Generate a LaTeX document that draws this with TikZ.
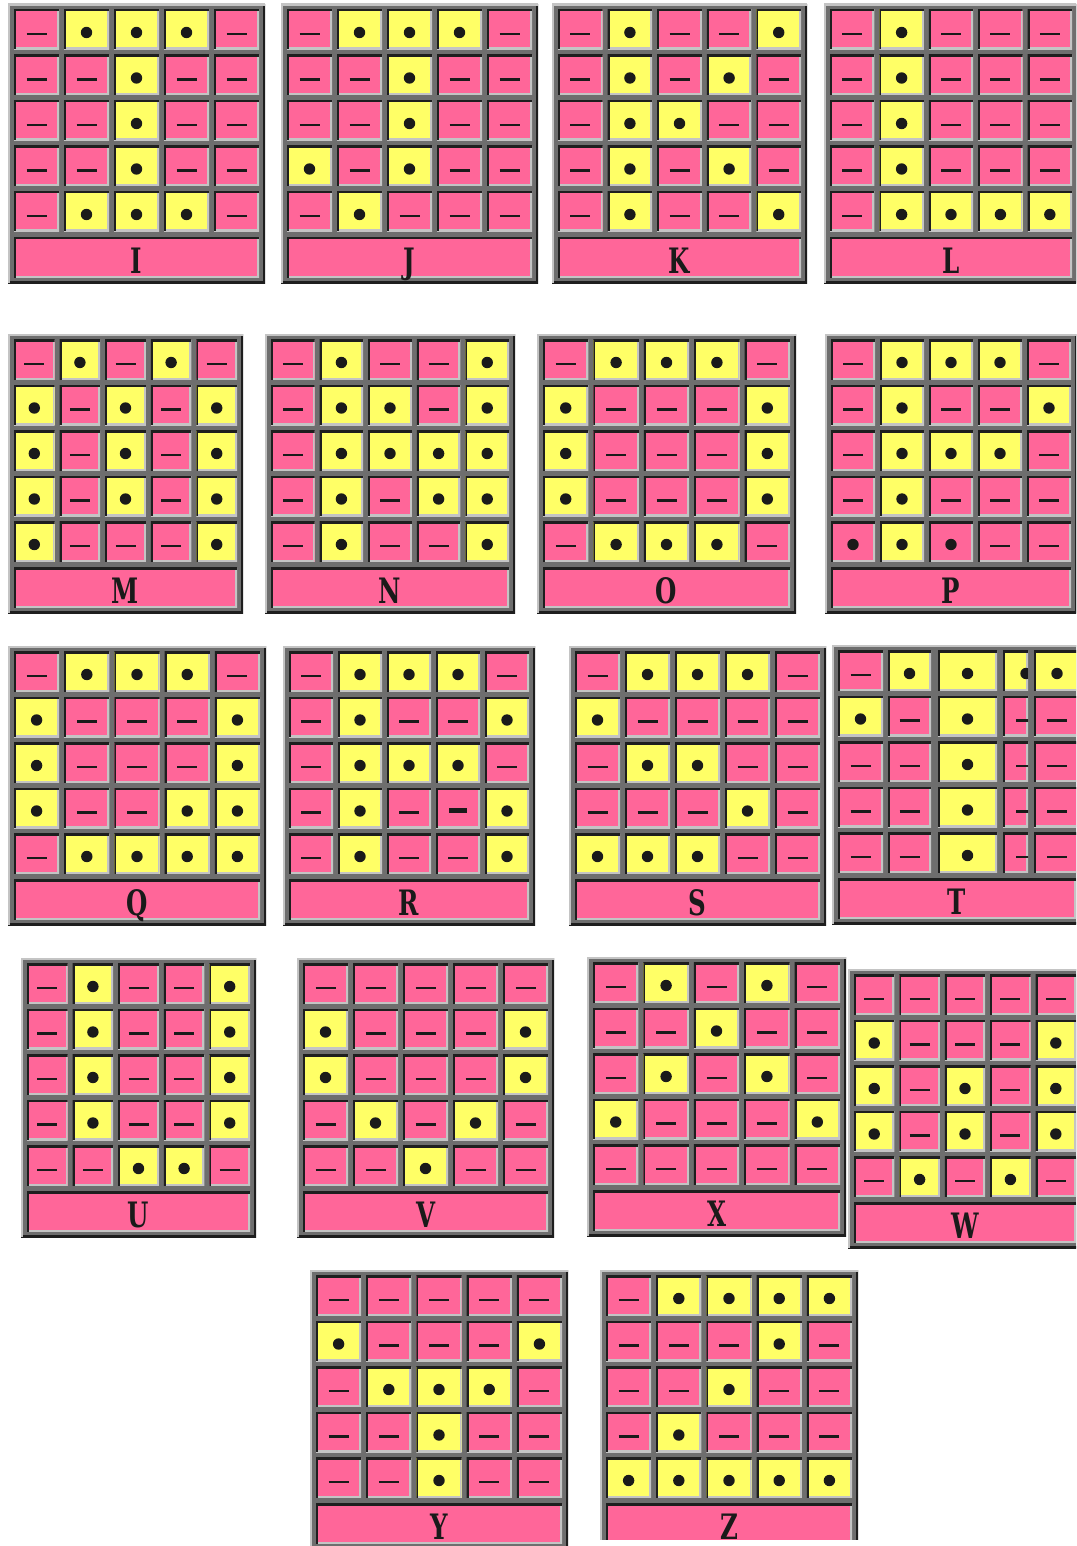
\documentclass[tikz,border=0pt]{standalone}
\usepackage{fontspec}
\newfontfamily\labelfont{DejaVu Serif}
\usepackage{graphicx}
\usepackage{xcolor}
\usepackage{tikz}
\usetikzlibrary{calc}

\definecolor{cellpink}{HTML}{FF6699}
\definecolor{cellyellow}{HTML}{FFFF66}
\definecolor{framegray}{HTML}{6E6E6E}
\definecolor{edgelight}{HTML}{C4C4C4}
\definecolor{edgedark}{HTML}{1E1E1E}
\definecolor{symink}{HTML}{1A1A1A}

% horizontal offset of a cell mark (only T needs it)
\newcommand\symx{0}
% bevels, drawn inside the node path
\newcommand\sunkenedge{%
  \draw[line width=4pt, edgelight] (path picture bounding box.north east) -- (path picture bounding box.south east) -- (path picture bounding box.south west);
  \draw[line width=4pt, edgedark] (path picture bounding box.south west) -- (path picture bounding box.north west) -- (path picture bounding box.north east);}
\newcommand\raisededge{%
  \draw[line width=4pt, edgedark] (path picture bounding box.north east) -- (path picture bounding box.south east) -- (path picture bounding box.south west);
  \draw[line width=4pt, edgelight] (path picture bounding box.south west) -- (path picture bounding box.north west) -- (path picture bounding box.north east);}
% cell marks
\newcommand\symdot{\fill[symink] ([xshift={\symx*1pt}, yshift=-3pt]path picture bounding box.center) circle[radius=5.7pt];}
\newcommand\symdash{\draw[symink, line width=2.6pt] ([xshift={(\symx-10)*1pt}, yshift=-4.5pt]path picture bounding box.center) -- ++(20pt,0pt);}
\newcommand\symbar{\draw[symink, line width=4.5pt] ([xshift=-9pt, yshift=-2.5pt]path picture bounding box.center) -- ++(18pt,0pt);}
\newcommand\lettertext[1]{\scalebox{0.7}[1]{#1}}

\tikzset{
  cellbase/.style={rectangle, inner sep=0pt, minimum height=40pt},
  pnk/.style={cellbase, fill=cellpink, path picture={\sunkenedge\symdash}},
  yel/.style={cellbase, fill=cellyellow, path picture={\sunkenedge\symdot}},
  pdot/.style={cellbase, fill=cellpink, path picture={\sunkenedge\symdot}},
  pbar/.style={cellbase, fill=cellpink, path picture={\sunkenedge\symbar}},
  panelframe/.style={rectangle, inner sep=0pt, fill=framegray, path picture={\raisededge}},
  labelbar/.style={rectangle, inner sep=0pt, fill=cellpink, minimum height=40pt, text height=35pt, text depth=3pt,
    font={\labelfont\bfseries\fontsize{35pt}{35pt}\selectfont}, text=symink, path picture={\sunkenedge}}
}

% #1 letter, #2 left, #3 top, #4 width, #5 the 25 cells row by row
\newcommand\letterpanel[5]{%
  \pgfmathsetmacro\pitch{(#4-7)/5}%
  \pgfmathsetmacro\cw{\pitch-5}%
  \node[panelframe, minimum width=#4pt, minimum height=279pt] (#1-frame) at ({#2+#4/2},{#3+139.5}) {};%
  \foreach \s [count=\k from 0] in {#5} {%
    \pgfmathtruncatemacro\prow{div(\k,5)}%
    \pgfmathtruncatemacro\pcol{mod(\k,5)}%
    \node[\s, minimum width=\cw pt] (#1-\prow-\pcol) at ({#2+6+\pcol*\pitch+\cw/2},{#3+25.5+\prow*45.5}) {};%
  }%
  \node[labelbar, minimum width={(#4-12)*1pt}] (#1-bar) at ({#2+#4/2},{#3+253.5}) {\lettertext{#1}};%
}

\begin{document}
\begin{tikzpicture}[x=1pt, y=-1pt]
    \useasboundingbox (0,0) rectangle (1076,1546);
    \clip (0,0) rectangle (1076,1546);

    % Row 1
    \letterpanel{I}{8}{4}{257}{pnk,yel,yel,yel,pnk, pnk,pnk,yel,pnk,pnk, pnk,pnk,yel,pnk,pnk, pnk,pnk,yel,pnk,pnk, pnk,yel,yel,yel,pnk}
    \letterpanel{J}{281}{4}{257}{pnk,yel,yel,yel,pnk, pnk,pnk,yel,pnk,pnk, pnk,pnk,yel,pnk,pnk, yel,pnk,yel,pnk,pnk, pnk,yel,pnk,pnk,pnk}
    \letterpanel{K}{552}{4}{255}{pnk,yel,pnk,pnk,yel, pnk,yel,pnk,yel,pnk, pnk,yel,yel,pnk,pnk, pnk,yel,pnk,yel,pnk, pnk,yel,pnk,pnk,yel}
    \letterpanel{L}{824}{4}{254}{pnk,yel,pnk,pnk,pnk, pnk,yel,pnk,pnk,pnk, pnk,yel,pnk,pnk,pnk, pnk,yel,pnk,pnk,pnk, pnk,yel,yel,yel,yel}

    % Row 2
    \letterpanel{M}{8}{334}{235}{pnk,yel,pnk,yel,pnk, yel,pnk,yel,pnk,yel, yel,pnk,yel,pnk,yel, yel,pnk,yel,pnk,yel, yel,pnk,pnk,pnk,yel}
    \letterpanel{N}{265}{334}{250}{pnk,yel,pnk,pnk,yel, pnk,yel,yel,pnk,yel, pnk,yel,yel,yel,yel, pnk,yel,pnk,yel,yel, pnk,yel,pnk,pnk,yel}
    \letterpanel{O}{537}{334}{259}{pnk,yel,yel,yel,pnk, yel,pnk,pnk,pnk,yel, yel,pnk,pnk,pnk,yel, yel,pnk,pnk,pnk,yel, pnk,yel,yel,yel,pnk}
    \letterpanel{P}{825}{334}{252}{pnk,yel,yel,yel,pnk, pnk,yel,pnk,pnk,yel, pnk,yel,yel,yel,pnk, pnk,yel,pnk,pnk,pnk, pdot,yel,pdot,pnk,pnk}

    % Row 3
    \letterpanel{Q}{8}{646}{258}{pnk,yel,yel,yel,pnk, yel,pnk,pnk,pnk,yel, yel,pnk,pnk,pnk,yel, yel,pnk,pnk,yel,yel, pnk,yel,yel,yel,yel}
    \letterpanel{R}{283}{646}{252}{pnk,yel,yel,yel,pnk, pnk,yel,pnk,pnk,yel, pnk,yel,yel,yel,pnk, pnk,yel,pnk,pbar,yel, pnk,yel,pnk,pnk,yel}
    \letterpanel{S}{569}{646}{257}{pnk,yel,yel,yel,pnk, yel,pnk,pnk,pnk,pnk, pnk,yel,yel,pnk,pnk, pnk,pnk,pnk,yel,pnk, yel,yel,yel,pnk,pnk}

    % T has uneven columns
    \node[panelframe, minimum width=250pt, minimum height=279pt] (T-frame) at (957,784.5) {};
    \foreach \s [count=\k from 0] in {pnk,yel,yel,yel,yel, yel,pnk,yel,pnk,pnk, pnk,pnk,yel,pnk,pnk, pnk,pnk,yel,pnk,pnk, pnk,pnk,yel,pnk,pnk} {
        \pgfmathtruncatemacro\prow{div(\k,5)}
        \pgfmathtruncatemacro\pcol{mod(\k,5)}
        \pgfmathsetmacro\colL{{838,888,938,1003,1034}[\pcol]}
        \pgfmathsetmacro\colR{{883,931,997,1028,1080}[\pcol]}
        \pgfmathsetmacro\symx{{0,0,0,10.5,0}[\pcol]}
        \node[\s, minimum width={(\colR-\colL)*1pt}] (T-\prow-\pcol) at ({(\colL+\colR)/2},{670.5+\prow*45.5}) {};
    }
    \node[labelbar, minimum width=238pt] (T-bar) at (957,898.5) {\lettertext{T}};

    % Row 4
    \letterpanel{U}{21}{958}{235}{pnk,yel,pnk,pnk,yel, pnk,yel,pnk,pnk,yel, pnk,yel,pnk,pnk,yel, pnk,yel,pnk,pnk,yel, pnk,pnk,yel,yel,pnk}
    \letterpanel{V}{297}{958}{257}{pnk,pnk,pnk,pnk,pnk, yel,pnk,pnk,pnk,yel, yel,pnk,pnk,pnk,yel, pnk,yel,pnk,yel,pnk, pnk,pnk,yel,pnk,pnk}
    \letterpanel{X}{587}{957}{259}{pnk,yel,pnk,yel,pnk, pnk,pnk,yel,pnk,pnk, pnk,yel,pnk,yel,pnk, yel,pnk,pnk,pnk,yel, pnk,pnk,pnk,pnk,pnk}
    \letterpanel{W}{848}{969}{234}{pnk,pnk,pnk,pnk,pnk, yel,pnk,pnk,pnk,yel, yel,pnk,yel,pnk,yel, yel,pnk,yel,pnk,yel, pnk,yel,pnk,yel,pnk}

    % Row 5
    \letterpanel{Y}{310}{1270}{258}{pnk,pnk,pnk,pnk,pnk, yel,pnk,pnk,pnk,yel, pnk,yel,yel,yel,pnk, pnk,pnk,yel,pnk,pnk, pnk,pnk,yel,pnk,pnk}
    \begin{scope}
        \clip (0,0) rectangle (1076,1539);
        \letterpanel{Z}{600}{1270}{258}{pnk,yel,yel,yel,yel, pnk,pnk,pnk,yel,pnk, pnk,pnk,yel,pnk,pnk, pnk,yel,pnk,pnk,pnk, yel,yel,yel,yel,yel}
    \end{scope}
\end{tikzpicture}
\end{document}
